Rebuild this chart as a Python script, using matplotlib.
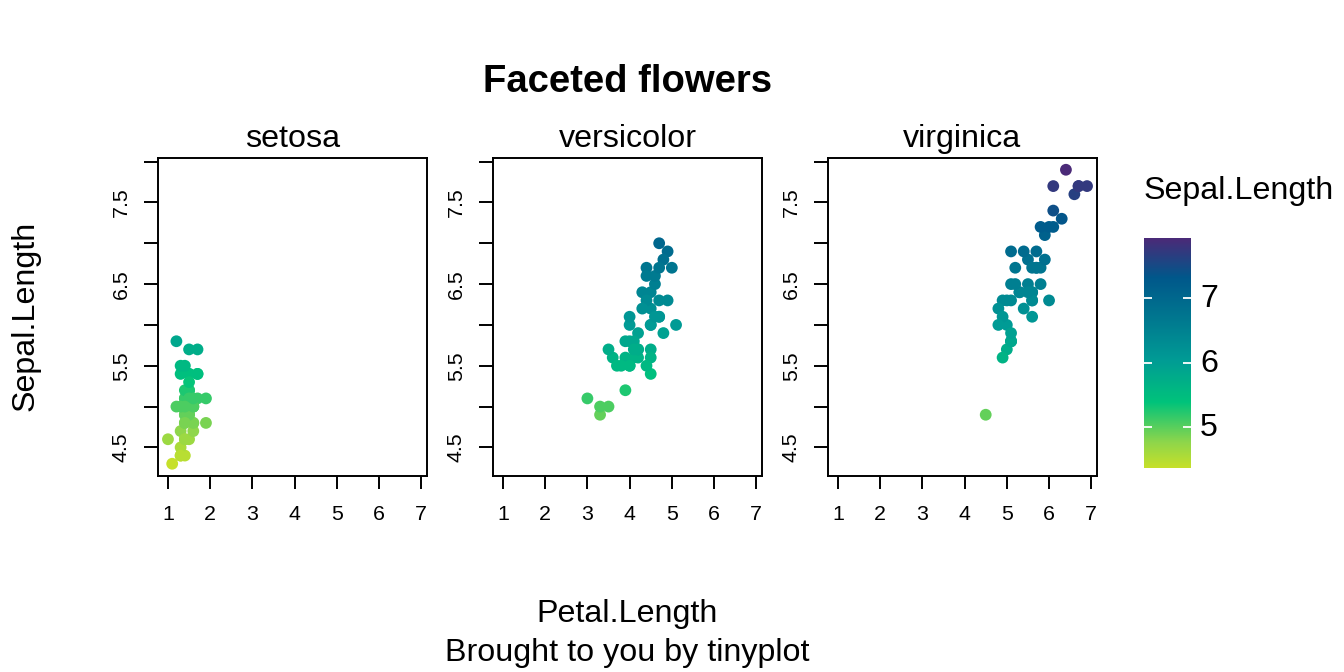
import numpy as np
import matplotlib
matplotlib.use("Agg")
import matplotlib.pyplot as plt
from matplotlib.colors import LinearSegmentedColormap, Normalize
from matplotlib.transforms import ScaledTranslation

plt.rcParams['font.family'] = ['Liberation Sans', 'DejaVu Sans']

species = ["setosa", "versicolor", "virginica"]
setosa_sepal = [5.1,4.9,4.7,4.6,5.0,5.4,4.6,5.0,4.4,4.9,5.4,4.8,4.8,4.3,5.8,5.7,5.4,5.1,5.7,5.1,5.4,5.1,4.6,5.1,4.8,5.0,5.0,5.2,5.2,4.7,4.8,5.4,5.2,5.5,4.9,5.0,5.5,4.9,4.4,5.1,5.0,4.5,4.4,5.0,5.1,4.8,5.1,4.6,5.3,5.0]
setosa_petal = [1.4,1.4,1.3,1.5,1.4,1.7,1.4,1.5,1.4,1.5,1.5,1.6,1.4,1.1,1.2,1.5,1.3,1.4,1.7,1.5,1.7,1.5,1.0,1.7,1.9,1.6,1.6,1.5,1.4,1.6,1.6,1.5,1.5,1.4,1.5,1.2,1.3,1.4,1.3,1.5,1.3,1.3,1.3,1.6,1.9,1.4,1.6,1.4,1.5,1.4]
versicolor_sepal = [7.0,6.4,6.9,5.5,6.5,5.7,6.3,4.9,6.6,5.2,5.0,5.9,6.0,6.1,5.6,6.7,5.6,5.8,6.2,5.6,5.9,6.1,6.3,6.1,6.4,6.6,6.8,6.7,6.0,5.7,5.5,5.5,5.8,6.0,5.4,6.0,6.7,6.3,5.6,5.5,5.5,6.1,5.8,5.0,5.6,5.7,5.7,6.2,5.1,5.7]
versicolor_petal = [4.7,4.5,4.9,4.0,4.6,4.5,4.7,3.3,4.6,3.9,3.5,4.2,4.0,4.7,3.6,4.4,4.5,4.1,4.5,3.9,4.8,4.0,4.9,4.7,4.3,4.4,4.8,5.0,4.5,3.5,3.8,3.7,3.9,5.1,4.5,4.5,4.7,4.4,4.1,4.0,4.4,4.6,4.0,3.3,4.2,4.2,4.2,4.3,3.0,4.1]
virginica_sepal = [6.3,5.8,7.1,6.3,6.5,7.6,4.9,7.3,6.7,7.2,6.5,6.4,6.8,5.7,5.8,6.4,6.5,7.7,7.7,6.0,6.9,5.6,7.7,6.3,6.7,7.2,6.2,6.1,6.4,7.2,7.4,7.9,6.4,6.3,6.1,7.7,6.3,6.4,6.0,6.9,6.7,6.9,5.8,6.8,6.7,6.7,6.3,6.5,6.2,5.9]
virginica_petal = [6.0,5.1,5.9,5.6,5.8,6.6,4.5,6.3,5.8,6.1,5.1,5.3,5.5,5.0,5.1,5.3,5.5,6.7,6.9,5.0,5.7,4.9,6.7,4.9,5.7,6.0,4.8,4.9,5.6,5.8,6.1,6.4,5.6,5.1,5.6,6.1,5.6,5.5,4.8,5.4,5.6,5.1,5.1,5.9,5.7,5.2,5.0,5.2,5.4,5.1]
sepal = [setosa_sepal, versicolor_sepal, virginica_sepal]
petal = [setosa_petal, versicolor_petal, virginica_petal]
x_ticks = [1, 2, 3, 4, 5, 6, 7]
y_ticks = [4.5, 5.0, 5.5, 6.0, 6.5, 7.0, 7.5, 8.0]
y_labelled = [4.5, 5.5, 6.5, 7.5]
legend_ticks = [5, 6, 7]

W, H = 1344, 672
fig = plt.figure(figsize=(W / 100, H / 100), dpi=100, facecolor='white')

def px_axes(l, t, r, b):
    return fig.add_axes([l / W, 1 - b / H, (r - l) / W, (b - t) / H])

def px_text(x, y, s, **kw):
    fig.text(x / W, 1 - y / H, s, ha=kw.pop('ha', 'center'), va=kw.pop('va', 'center'), **kw)

vmin, vmax = 4.3, 7.9
knots = [(4.3, "#C6E02A"), (4.7, "#8ED64B"), (5.33, "#00C37B"), (6.0, "#009B95"),
         (6.6, "#007A90"), (7.28, "#00588B"), (7.9, "#4B2A78")]
cmap = LinearSegmentedColormap.from_list(
    "hclv", [((v - vmin) / (vmax - vmin), c) for v, c in knots], N=256)
norm = Normalize(vmin, vmax)

lefts = [158, 493, 828]
for i, name in enumerate(species):
    ax = px_axes(lefts[i], 158, lefts[i] + 269, 475.5)
    ax.scatter(petal[i], sepal[i], c=sepal[i], cmap=cmap, norm=norm, s=72, linewidths=0, clip_on=False)
    ax.set_xlim(0.764, 7.136)
    ax.set_ylim(4.156, 8.044)
    ax.set_xticks(x_ticks)
    ax.set_yticks(y_ticks)
    ax.set_yticklabels([f"{v:.1f}" if v in y_labelled else "" for v in y_ticks],
                       rotation=90, va='center')
    ax.tick_params(axis='x', length=9.5, width=1.4, labelsize=15.4, pad=12)
    ax.tick_params(axis='y', length=10, width=1.4, labelsize=15.4, pad=9.5)
    for s in ax.spines.values():
        s.set_linewidth(1.4)
    ax.set_title(name, fontsize=23.2, pad=8)

px_text(627.5, 82, "Faceted flowers", fontsize=27.5, fontweight='bold')
px_text(26, 316, "Sepal.Length", fontsize=23.2, rotation=90)
px_text(627, 614, "Petal.Length", fontsize=23.2)
px_text(627, 653, "Brought to you by tinyplot", fontsize=23.2)
px_text(1144, 191, "Sepal.Length", fontsize=23.2, ha='left')

cax = px_axes(1144, 238, 1191, 468)
grad = np.linspace(vmin, vmax, 256).reshape(-1, 1)
cax.imshow(grad, origin='lower', aspect='auto', cmap=cmap, norm=norm, extent=[0, 1, 4.36, 7.94])
cax.set_xticks([])
cax.set_yticks(legend_ticks)
cax.yaxis.tick_right()
cax.tick_params(axis='y', direction='in', left=True, right=True, length=6, width=1.3,
                color='white', labelcolor='black', labelsize=23.2, pad=6.5)
shift = ScaledTranslation(0, 2.5 / 100, fig.dpi_scale_trans)
for lab in cax.get_yticklabels():
    lab.set_transform(lab.get_transform() + shift)
for s in cax.spines.values():
    s.set_visible(False)

fig.savefig("out.png", dpi=100, facecolor='white')
